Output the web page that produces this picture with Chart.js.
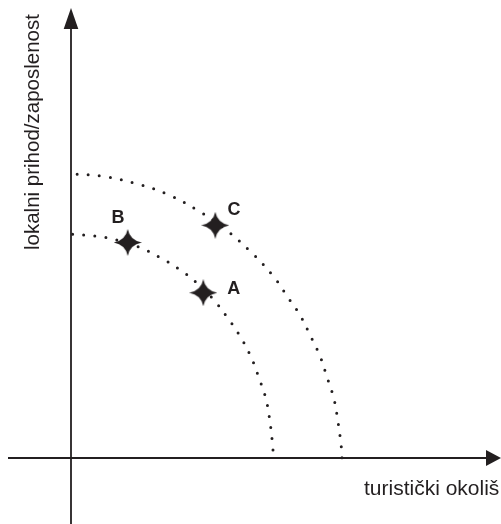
<!DOCTYPE html>
<html><head><meta charset="utf-8">
<script src="https://cdn.jsdelivr.net/npm/chart.js@4"></script>
<style>html,body{margin:0;padding:0;background:#fff}#wrap{width:501px;height:524px;position:relative}</style>
</head><body><div id="wrap"><canvas id="c"></canvas></div>
<script>
// ---- data ----
const innerX = [0, 2.4, 4.6, 6.8, 8.8, 10.8, 12.6, 14.2, 15.6, 16.9, 18.0, 18.8, 19.5, 19.9, 20.15, 20.25];
const innerY = [22.4, 22.2, 21.8, 21.1, 20.1, 18.9, 17.5, 15.9, 14.1, 12.2, 10.1, 8.0, 5.9, 3.6, 1.4, 0];
const outerX = [0, 3.0, 6.3, 9.6, 12.6, 15.4, 18.0, 20.3, 21.6, 22.9, 23.9, 24.9, 25.6, 26.3, 26.7, 27.0, 27.1];
const outerY = [28.4, 28.2, 27.5, 26.4, 24.8, 22.9, 20.6, 18.1, 16.2, 14.3, 12.3, 10.2, 8.1, 5.9, 3.6, 1.4, 0];
const pointLabels = ['B', 'A', 'C'];
const pointX = [5.67, 13.23, 14.43];
const pointY = [21.55, 16.53, 23.27];
const xTitle = 'turistički okoliš';
const yTitle = 'lokalni prihod/zaposlenost';

const INK = '#231f20';
const FONT = "'Liberation Sans', Arial, Helvetica, sans-serif";

// four-point star marker
function makeStar(w, h) {
  const cv = document.createElement('canvas');
  cv.width = w; cv.height = h;
  const c = cv.getContext('2d');
  const cx = w / 2, cy = h / 2, rx = w / 2, ry = h / 2, k = 2.2;
  c.fillStyle = INK;
  c.beginPath();
  c.moveTo(cx, cy - ry);
  c.quadraticCurveTo(cx + k, cy - k, cx + rx, cy);
  c.quadraticCurveTo(cx + k, cy + k, cx, cy + ry);
  c.quadraticCurveTo(cx - k, cy + k, cx - rx, cy);
  c.quadraticCurveTo(cx - k, cy - k, cx, cy - ry);
  c.closePath();
  c.fill();
  return cv;
}
const star = makeStar(28, 27);

const toPts = (xs, ys) => xs.map((v, i) => ({x: v, y: ys[i]}));

const labelOffsets = {B: [-9.7, -24], A: [30.5, -3.7], C: [18.7, -15.6]};

const drawPlugin = {
  id: 'decor',
  beforeDatasetsDraw(chart) {
    const {ctx, scales: {x, y}} = chart;
    const ox = x.getPixelForValue(0), oy = y.getPixelForValue(0);
    ctx.save();
    ctx.strokeStyle = INK; ctx.fillStyle = INK; ctx.lineWidth = 1.8;
    // x axis
    const xl = x.getPixelForValue(-6.3), xb = x.getPixelForValue(41.5), xt = x.getPixelForValue(43.0);
    ctx.beginPath(); ctx.moveTo(xl, oy); ctx.lineTo(xb + 1, oy); ctx.stroke();
    ctx.beginPath(); ctx.moveTo(xt, oy); ctx.lineTo(xb, oy - 8); ctx.lineTo(xb, oy + 8); ctx.closePath(); ctx.fill();
    // y axis
    const yb0 = y.getPixelForValue(-6.6), yb = y.getPixelForValue(42.9), yt = y.getPixelForValue(45.0);
    ctx.beginPath(); ctx.moveTo(ox, yb0); ctx.lineTo(ox, yb - 1); ctx.stroke();
    ctx.beginPath(); ctx.moveTo(ox, yt); ctx.lineTo(ox - 7.3, yb); ctx.lineTo(ox + 7.3, yb); ctx.closePath(); ctx.fill();
    ctx.restore();
  },
  afterDatasetsDraw(chart) {
    const {ctx, scales: {x, y}} = chart;
    ctx.save();
    ctx.fillStyle = INK;
    ctx.font = 'bold 18px ' + FONT;
    ctx.textAlign = 'center'; ctx.textBaseline = 'middle';
    pointLabels.forEach((t, i) => {
      const px = x.getPixelForValue(pointX[i]), py = y.getPixelForValue(pointY[i]);
      const o = labelOffsets[t];
      ctx.fillText(t, px + o[0], py + o[1]);
    });
    // axis titles
    ctx.font = '21px ' + FONT;
    ctx.textAlign = 'left'; ctx.textBaseline = 'alphabetic';
    ctx.fillText(xTitle, 364, 495);
    ctx.save();
    ctx.translate(39.3, 250);
    ctx.rotate(-Math.PI / 2);
    ctx.font = '20.5px ' + FONT;
    ctx.fillText(yTitle, 0, 0);
    ctx.restore();
    ctx.restore();
  }
};

new Chart(document.getElementById('c'), {
  type: 'scatter',
  data: {
    datasets: [
      {
        label: 'points',
        data: toPts(pointX, pointY),
        pointStyle: star,
        pointRadius: 10,
        pointHoverRadius: 10,
        showLine: false
      },
      {
        label: 'inner',
        data: toPts(innerX, innerY),
        showLine: true,
        tension: 0.4,
        borderColor: INK,
        borderWidth: 3,
        borderDash: [0, 11.2],
        borderDashOffset: -1.5,
        borderCapStyle: 'round',
        pointRadius: 0,
        fill: false
      },
      {
        label: 'outer',
        data: toPts(outerX, outerY),
        showLine: true,
        tension: 0.4,
        borderColor: INK,
        borderWidth: 3,
        borderDash: [0, 11.2],
        borderDashOffset: -6,
        borderCapStyle: 'round',
        pointRadius: 0,
        fill: false
      }
    ]
  },
  options: {
    responsive: true,
    maintainAspectRatio: false,
    animation: false,
    layout: {padding: 0, autoPadding: false},
    plugins: {legend: {display: false}, tooltip: {enabled: false}},
    events: [],
    scales: {
      x: {type: 'linear', display: false, min: -7.1, max: 43.0},
      y: {type: 'linear', display: false, min: -6.6, max: 45.8}
    }
  },
  plugins: [drawPlugin]
});
</script>
</body></html>
